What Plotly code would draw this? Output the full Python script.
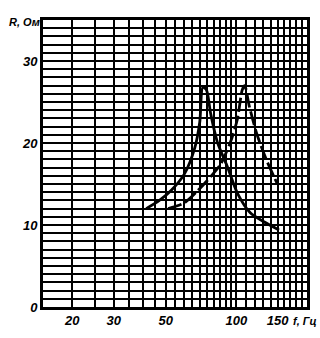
import plotly.graph_objects as go

# Data
solid_f = [41.3, 47, 52.7, 60, 66.5, 69.8, 72, 74.5, 77.7, 83, 91.6, 101, 114.6, 131, 152]
solid_R = [12.0, 13.0, 14.2, 16.2, 19.4, 22.5, 26.8, 26.5, 23.6, 20.1, 17.1, 13.9, 11.5, 10.4, 9.4]

dashed_f = [51.2, 60, 68.5, 77.7, 85.6, 94.3, 101, 106, 108.5, 113.5, 122.6, 135, 149]
dashed_R = [12.0, 12.7, 14.2, 15.9, 17.4, 20.1, 22.9, 26.5, 27.0, 24.5, 21.0, 17.8, 15.1]

x_grid = [15, 20, 25, 30, 35, 40, 45, 50, 55, 60, 65, 70, 75, 80, 85, 90, 95,
          100, 110, 120, 130, 140, 150, 160, 170, 180, 190, 200]
x_labels = {20: "20", 30: "30", 50: "50", 100: "100", 150: "150"}
y_grid = list(range(0, 36))
y_labels = {0: "0", 10: "10", 20: "20", 30: "30"}

FONT = dict(family="Liberation Sans", size=13, color="black", weight="bold", style="italic")

fig = go.Figure()
fig.add_trace(go.Scatter(x=solid_f, y=solid_R, mode="lines",
                         line=dict(color="black", width=2.8, shape="spline", smoothing=0.8),
                         showlegend=False, hoverinfo="skip"))
fig.add_trace(go.Scatter(x=dashed_f, y=dashed_R, mode="lines",
                         line=dict(color="black", width=2.8, dash="14px,4px", shape="spline", smoothing=0.8),
                         showlegend=False, hoverinfo="skip"))

fig.update_layout(
    width=320, height=338,
    margin=dict(l=43, r=10, t=20, b=20),
    paper_bgcolor="white", plot_bgcolor="white",
    font=FONT,
    xaxis=dict(type="log", range=[1.1761, 2.30103],
               tickmode="array", tickvals=x_grid,
               ticktext=[x_labels.get(v, "") for v in x_grid],
               showgrid=True, gridcolor="black", gridwidth=2,
               showline=True, linecolor="black", linewidth=2.5, mirror=True,
               ticks="", zeroline=False, tickfont=FONT),
    yaxis=dict(range=[0, 35], tickmode="array", tickvals=y_grid,
               ticktext=[y_labels.get(v, "") for v in y_grid],
               showgrid=True, gridcolor="black", gridwidth=2,
               showline=True, linecolor="black", linewidth=3, mirror=True,
               ticks="", zeroline=False, tickfont=FONT),
    annotations=[
        dict(text="R, Ом", x=-0.004, y=0.993, xref="paper", yref="paper",
             xanchor="right", yanchor="middle", showarrow=False, font=dict(FONT, size=11)),
        dict(text="f, Гц", x=0.94, y=-0.05, xref="paper", yref="paper",
             xanchor="left", yanchor="middle", showarrow=False, font=dict(FONT, size=11)),
    ],
)

fig.write_html("out.html")
